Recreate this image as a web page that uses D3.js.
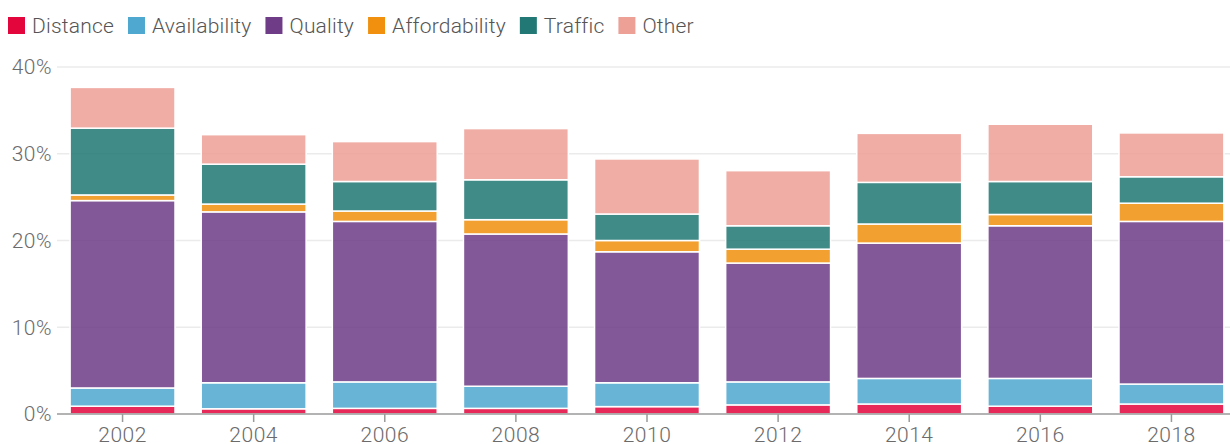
<!DOCTYPE html>
<meta charset="utf-8">
<title>Stacked reasons</title>
<style>
body {
  margin: 0;
  background: #fff;
}
text {
  font-family: Roboto, "Noto Sans", sans-serif;
  font-weight: 300;
  letter-spacing: 0.5px;
}
.grid line {
  stroke: #ebebeb;
  stroke-width: 1.5px;
}
</style>
<svg></svg>
<script src="https://cdn.jsdelivr.net/npm/d3@7"></script>
<script>
// values, % of respondents
var years = ["2002", "2004", "2006", "2008", "2010", "2012", "2014", "2016", "2018"];
var categories = ["Distance", "Availability", "Quality", "Affordability", "Traffic", "Other"];
var distance      = [0.9, 0.6, 0.65, 0.65, 0.85, 1.05, 1.15, 0.9, 1.15];
var availability  = [2.1, 3.0, 3.05, 2.55, 2.75, 2.65, 2.95, 3.2, 2.3];
var quality       = [21.6, 19.7, 18.5, 17.55, 15.1, 13.7, 15.6, 17.6, 18.75];
var affordability = [0.65, 0.9, 1.2, 1.65, 1.3, 1.6, 2.2, 1.3, 2.1];
var traffic       = [7.7, 4.6, 3.4, 4.6, 3.05, 2.7, 4.8, 3.8, 3.05];
var other         = [4.7, 3.4, 4.6, 5.9, 6.35, 6.35, 5.65, 6.6, 5.05];
var yTicks = [0, 10, 20, 30, 40];
var colors = ["#e2063c", "#4ea8d0", "#6f3d87", "#f0900e", "#217874", "#eda096"];

var series = [distance, availability, quality, affordability, traffic, other];
var rows = years.map(function(y, i) {
  var r = {year: y};
  categories.forEach(function(c, j) { r[c] = series[j][i]; });
  return r;
});

var width = 1230, height = 444;
var margin = {top: 67, right: -7, bottom: 30, left: 57};

var svg = d3.select("svg")
    .attr("width", width)
    .attr("height", height);

var x = d3.scaleBand()
    .domain(years)
    .range([margin.left, width - margin.right])
    .paddingInner(0.2)
    .paddingOuter(0.1);

var y = d3.scaleLinear()
    .domain([0, 40])
    .range([height - margin.bottom, margin.top]);

var color = d3.scaleOrdinal().domain(categories).range(colors);

// gridlines
svg.append("g")
    .attr("class", "grid")
  .selectAll("line")
  .data(yTicks.filter(function(d) { return d > 0; }))
  .join("line")
    .attr("x1", margin.left)
    .attr("x2", width)
    .attr("y1", function(d) { return y(d); })
    .attr("y2", function(d) { return y(d); });

// y labels
svg.append("g")
  .selectAll("text")
  .data(yTicks)
  .join("text")
    .attr("x", 52)
    .attr("y", function(d) { return y(d); })
    .attr("dy", "0.35em")
    .attr("text-anchor", "end")
    .attr("fill", "#6b6b6b")
    .style("font-size", "21px")
    .text(function(d) { return d + "%"; });

var stack = d3.stack().keys(categories);
var layers = stack(rows);

svg.append("g")
  .selectAll("g")
  .data(layers)
  .join("g")
    .attr("fill", function(d) { return color(d.key); })
  .selectAll("rect")
  .data(function(d) { return d; })
  .join("rect")
    .attr("x", function(d) { return x(d.data.year); })
    .attr("width", x.bandwidth())
    .attr("y", function(d) { return y(d[1]); })
    .attr("height", function(d) { return y(d[0]) - y(d[1]); })
    .attr("fill-opacity", 0.86)
    .attr("stroke", "#fff")
    .attr("stroke-width", 1.5);

// x axis
var xAxis = svg.append("g")
    .attr("transform", "translate(0," + y(0) + ")")
    .call(d3.axisBottom(x).tickSize(8).tickPadding(5));
xAxis.select(".domain")
    .attr("d", "M" + margin.left + ",0H" + width)
    .attr("stroke", "#9a9a9a")
    .attr("stroke-width", 1.5);
xAxis.selectAll(".tick line").attr("stroke", "#9a9a9a").attr("stroke-width", 1.5);
xAxis.selectAll(".tick text")
    .attr("fill", "#6b6b6b")
    .style("font-family", "Roboto, sans-serif")
    .style("font-weight", 300)
    .style("letter-spacing", "0.5px")
    .style("font-size", "21px");

// legend
var legend = svg.append("g").attr("transform", "translate(8,17)");
var lx = 0;
categories.forEach(function(c) {
  var g = legend.append("g").attr("transform", "translate(" + lx + ",0)");
  g.append("rect")
      .attr("width", 17)
      .attr("height", 17)
      .attr("fill", color(c));
  var t = g.append("text")
      .attr("x", 24)
      .attr("y", 9)
      .attr("dy", "0.35em")
      .attr("fill", "#555")
      .style("font-size", "21px")
      .style("letter-spacing", "0.2px")
      .text(c);
  lx += 24 + t.node().getComputedTextLength() + 14;
});
</script>
